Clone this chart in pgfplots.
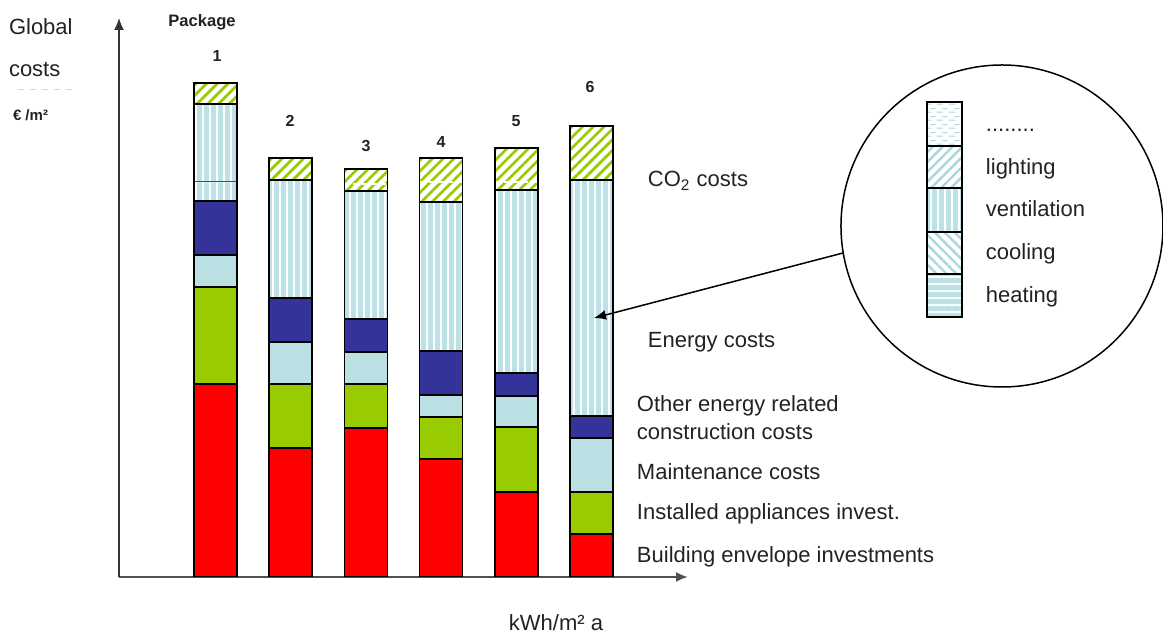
\documentclass[border=0pt]{standalone}
\usepackage{pgfplots}
\pgfplotsset{compat=1.18}
\usepackage{pgfplotstable}
\usepackage{fontspec}
\setmainfont{Liberation Sans}
\usetikzlibrary{patterns.meta,arrows.meta}
\definecolor{cred}{HTML}{FF0000}
\definecolor{cgreen}{HTML}{99CC00}
\definecolor{cmaint}{HTML}{BBE0E3}
\definecolor{cdblue}{HTML}{333399}
\definecolor{cvent}{HTML}{BCE2E8}
\definecolor{cline}{HTML}{3A3AD0}
\definecolor{cpat}{HTML}{A8D8DE}
\definecolor{axgray}{HTML}{505050}
\definecolor{txt}{HTML}{222222}

\tikzdeclarepattern{
  name=hdash,
  type=uncolored,
  bounding box={(0,0) and (6bp,4bp)},
  tile size={(6bp,4bp)},
  code={
    \draw[line width=0.6bp] (0.5bp,1bp) -- (3.5bp,1bp);
    \draw[line width=0.6bp] (3.5bp,3bp) -- (6bp,3bp);
  }
}

% under = height of the stack below the upper CO2 part
\pgfplotstableread{
x red green maint dblue elow eline ehigh energy co2 under co2b
1 193 97 32 54 18.5 1.5 77 97 21 494 0
2 129 64 42 44 118 0 0 118 22 419 0
3 149 44 32 33 128 0 0 128 22 393 15
4 118 42 22 44 149 0 0 149 44 395 24
5 85 65 31 23 183 0 0 183 42 395 34
6 43 42 54 22 236 0 0 236 54 451 0
}\data

\pgfplotsset{
  base/.style={at={(59.5bp,28.5bp)}, anchor=south west, scale only axis,
    width=284.5bp, height=279.5bp, xmin=-0.2832, xmax=7.283, ymin=0, ymax=559,
    ybar stacked, bar width=21.5bp, xtick=\empty, ytick=\empty},
  vent/.style={fill=cvent, postaction={pattern={Lines[angle=90,distance=3.5bp,line width=1bp]}, pattern color=white}},
  cotwo/.style={fill=white, postaction={pattern={Lines[angle=45,distance=3.8bp,line width=1.4bp]}, pattern color=cgreen}},
}

\begin{document}
\begin{tikzpicture}
\useasboundingbox (0,0) rectangle (581.5bp,317bp);

% fills
\begin{axis}[base, axis lines=none]
\addplot[fill=cred, draw=none] table[x=x,y=red]{\data};
\addplot[fill=cgreen, draw=none] table[x=x,y=green]{\data};
\addplot[fill=cmaint, draw=none] table[x=x,y=maint]{\data};
\addplot[fill=cdblue, draw=none] table[x=x,y=dblue]{\data};
\addplot[vent, draw=none] table[x=x,y=elow]{\data};
\addplot[fill=cline, draw=none] table[x=x,y=eline]{\data};
\addplot[vent, draw=none] table[x=x,y=ehigh]{\data};
\addplot[cotwo, draw=none] table[x=x,y=co2]{\data};
\end{axis}

% white dashed split inside the CO2 parts
\begin{axis}[base, axis lines=none]
\addplot[fill=none, draw=none] table[x=x,y=under]{\data};
\addplot[fill=none, draw=white, line width=0.8bp, dash pattern=on 3bp off 1.5bp] table[x=x,y=co2b]{\data};
\end{axis}

% outlines and axis lines
\begin{axis}[base, axis lines*=left,
  x axis line style={draw=axgray, line width=1bp, -{Latex[length=6bp,width=5bp]}},
  y axis line style={draw=black!80, line width=0.75bp, -{Latex[length=6bp,width=5bp]}}]
\addplot[fill=none, draw=black, line width=0.75bp] table[x=x,y=red]{\data};
\addplot[fill=none, draw=black, line width=0.75bp] table[x=x,y=green]{\data};
\addplot[fill=none, draw=black, line width=0.75bp] table[x=x,y=maint]{\data};
\addplot[fill=none, draw=black, line width=0.75bp] table[x=x,y=dblue]{\data};
\addplot[fill=none, draw=black, line width=0.75bp] table[x=x,y=energy]{\data};
\addplot[fill=none, draw=black, line width=0.75bp] table[x=x,y=co2]{\data};
\end{axis}

\begin{scope}[x=0.5bp, y=-0.5bp, shift={(0,317bp)},
  every node/.style={inner sep=0, outer sep=0, text=txt, font=\fontsize{11bp}{13bp}\selectfont}]
% y label
\node[anchor=base west] at (9,35) {Global};
\node[anchor=base west] at (9,77) {costs};
\draw[black!15, dash pattern=on 3bp off 3bp, line width=0.5bp] (18,90) -- (78,90);
\node[anchor=base west, font=\fontsize{7.5bp}{9bp}\selectfont\bfseries] at (13,120.5) {€ /m²};
% package labels
\node[anchor=base, font=\fontsize{8.3bp}{10bp}\selectfont\bfseries] at (202,27) {Package};
\foreach \n/\xx/\yy in {1/217/62, 2/290/127, 3/366/152, 4/441/148, 5/516/127, 6/590/93}
  \node[anchor=base, font=\fontsize{8bp}{10bp}\selectfont\bfseries] at (\xx,\yy) {\n};
% x label
\node[anchor=base] at (556,631) {kWh/m² a};
% category labels
\node[anchor=base west] at (648,187) {CO\textsubscript{2} costs};
\node[anchor=base west] at (648,348) {Energy costs};
\node[anchor=base west] at (637,412) {Other energy related};
\node[anchor=base west] at (637,440) {construction costs};
\node[anchor=base west] at (637,480) {Maintenance costs};
\node[anchor=base west] at (637,520) {Installed appliances invest.};
\node[anchor=base west] at (637,562.5) {Building envelope investments};
% circle legend
\draw[line width=0.75bp] (1002,226) circle [radius=80.5bp];
\draw[line width=0.75bp, -{Latex[length=6bp,width=5bp]}] (843,253) -- (594,318);
\fill[white] (927,102) rectangle (962,146);
\fill[pattern=hdash, pattern color=cpat] (927,102) rectangle (962,146);
\fill[white] (927,146) rectangle (962,188);
\fill[pattern={Lines[angle=45,distance=3.5bp,line width=1.2bp]}, pattern color=cpat] (927,146) rectangle (962,188);
\fill[cvent] (927,188) rectangle (962,232);
\fill[pattern={Lines[angle=90,distance=3.5bp,line width=1bp]}, pattern color=white] (927,188) rectangle (962,232);
\fill[white] (927,232) rectangle (962,274);
\fill[pattern={Lines[angle=-45,distance=3.5bp,line width=1.2bp]}, pattern color=cpat] (927,232) rectangle (962,274);
\fill[cvent] (927,274) rectangle (962,317);
\fill[pattern={Lines[angle=0,distance=3.5bp,line width=1bp]}, pattern color=white] (927,274) rectangle (962,317);
\draw[line width=0.75bp] (927,102) rectangle (962,317);
\foreach \yy in {146,188,232,274} \draw[line width=0.75bp] (927,\yy) -- (962,\yy);
\node[anchor=base west] at (986,132) {........};
\node[anchor=base west] at (986,175) {lighting};
\node[anchor=base west] at (986,217) {ventilation};
\node[anchor=base west] at (986,260) {cooling};
\node[anchor=base west] at (986,303) {heating};
\end{scope}
\end{tikzpicture}
\end{document}
